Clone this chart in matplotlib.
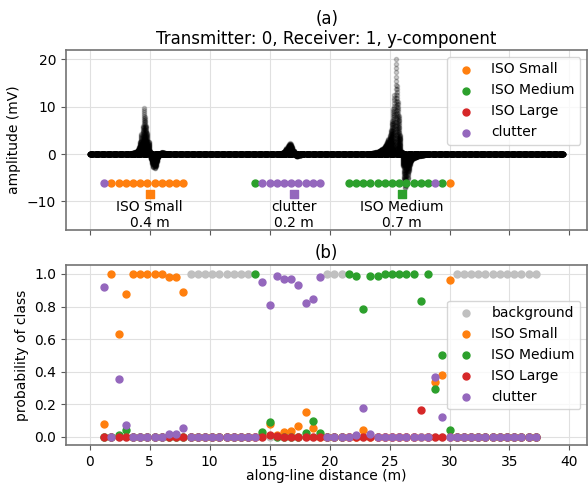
import numpy as np
import matplotlib
matplotlib.use('Agg')
import matplotlib.pyplot as plt

# class names / colours (index 0 = background)
class_names = ['background', 'ISO Small', 'ISO Medium', 'ISO Large', 'clutter']
class_colors = ['silver', 'tab:orange', 'tab:green', 'tab:red', 'tab:purple']

# sounding stations along the line (m)
station_x = np.round(np.arange(1.2, 37.21, 0.6), 1)

# predicted probabilities per class at each station (61 stations)
p_background = [0, 0, 0, 0, 0, 0, 0, 0, 0, 0, 0, 0,
                1, 1, 1, 1, 1, 1, 1, 1, 1,
                0, 0, 0, 0, 0, 0, 0, 0, 0, 0,
                1, 1, 1,
                0, 0, 0, 0, 0, 0, 0, 0, 0, 0, 0, 0, 0, 0, 0,
                1, 1, 1, 1, 1, 1, 1, 1, 1, 1, 1, 1]
p_small = [0.08, 1.0, 0.63, 0.88, 1.0, 1.0, 1.0, 1.0, 1.0, 0.98, 0.98, 0.89,
           0, 0, 0, 0, 0, 0, 0, 0, 0,
           0, 0.01, 0.08, 0.01, 0.03, 0.035, 0.065, 0.155, 0.055, 0,
           0, 0, 0,
           0, 0, 0.04, 0, 0, 0, 0, 0, 0, 0, 0, 0, 0.34, 0.38, 0.965,
           0, 0, 0, 0, 0, 0, 0, 0, 0, 0, 0, 0]
p_medium = [0, 0, 0.014, 0.045, 0, 0, 0, 0, 0, 0, 0, 0,
            0, 0, 0, 0, 0, 0, 0, 0, 0,
            1.0, 0.03, 0.09, 0, 0, 0, 0, 0.025, 0.10, 0.025,
            0, 0, 0,
            1.0, 0.988, 0.785, 0.985, 0.99, 1.0, 1.0, 1.0, 1.0, 1.0, 0.835, 1.0,
            0.295, 0.50, 0.04,
            0, 0, 0, 0, 0, 0, 0, 0, 0, 0, 0, 0]
p_large = [0, 0, 0, 0, 0, 0, 0, 0, 0, 0, 0, 0,
           0, 0, 0, 0, 0, 0, 0, 0, 0,
           0, 0, 0.012, 0.005, 0, 0, 0, 0, 0, 0,
           0, 0, 0,
           0, 0, 0, 0, 0, 0, 0, 0, 0, 0, 0.165, 0, 0, 0, 0,
           0, 0, 0, 0, 0, 0, 0, 0, 0, 0, 0, 0]
p_clutter = [0.92, 0, 0.357, 0.075, 0, 0, 0, 0, 0, 0.02, 0.02, 0.055,
             0, 0, 0, 0, 0, 0, 0, 0, 0,
             0, 0.95, 0.81, 0.985, 0.97, 0.97, 0.935, 0.82, 0.845, 0.98,
             0, 0, 0,
             0, 0.01, 0.18, 0.015, 0, 0, 0, 0, 0, 0, 0, 0, 0.37, 0.12, 0,
             0, 0, 0, 0, 0, 0, 0, 0, 0, 0, 0, 0]

# true targets
target_x = [5.0, 17.0, 26.0]
target_class = [1, 4, 2]
target_label = ['ISO Small\n0.4 m', 'clutter\n0.2 m', 'ISO Medium\n0.7 m']

# measured response: peak amplitude (mV) near each anomaly, zero elsewhere
small_x = np.round(np.arange(3.4, 6.41, 0.1), 1)
small_amp = [0.1, 0.15, 0.2, 0.3, 0.4, 0.6, 0.9, 1.5, 2.6, 4.2, 6.0, 9.8,
             7.8, 6.0, 4.5, 2.6, 0.6, -1.0, -2.0, -2.8, -3.0, -2.6, -1.6,
             -0.7, -0.1, 0.3, 0.35, 0.3, 0.25, 0.15, 0.05]
clutter_x = np.round(np.arange(15.9, 17.81, 0.1), 1)
clutter_amp = [0.1, 0.2, 0.3, 0.5, 0.8, 1.2, 1.7, 2.1, 2.3, 2.1, 1.5, 0.7,
               0.0, -0.3, -0.4, -0.3, -0.2, -0.1, 0.05, 0.0]
medium_x = np.round(np.arange(23.4, 28.01, 0.1), 1)
medium_amp = [0.1, 0.15, 0.2, 0.25, 0.3, 0.4, 0.5, 0.6, 0.75, 0.9, 1.1, 1.4,
              1.7, 2.1, 2.6, 3.2, 4.0, 5.2, 7.0, 9.5, 12.5, 20.0, 14.5, 11.0,
              8.0, 4.0, 0.5, -2.5, -5.5, -7.2, -6.8, -5.2, -3.5, -2.2, -1.5,
              -1.1, -0.9, -0.7, -0.6, -0.5, -0.4, -0.3, -0.25, -0.2, -0.15,
              -0.1, -0.05]
line_x = np.round(np.arange(0.0, 39.51, 0.1), 1)
# relative amplitude of each time channel
channel_scale = [1.0, 0.955, 0.91, 0.865, 0.82, 0.775, 0.73, 0.685, 0.64,
                 0.595, 0.55, 0.505, 0.46, 0.42, 0.38, 0.34, 0.30, 0.265,
                 0.23, 0.2, 0.17, 0.14, 0.115, 0.09, 0.07, 0.05, 0.035,
                 0.02, 0.01, 0.0]

plt.rcParams['font.family'] = 'DejaVu Sans'
plt.rcParams['font.size'] = 10

probs = np.array([p_background, p_small, p_medium, p_large, p_clutter])

sig_x = list(line_x)
sig_y = [0.0] * len(line_x)
for xs, amps in [(small_x, small_amp), (clutter_x, clutter_amp),
                 (medium_x, medium_amp)]:
    for x, a in zip(xs, amps):
        sig_x.append(x)
        sig_y.append(a)
sig_x = np.array(sig_x)
sig_y = np.array(sig_y)
all_x = np.concatenate([sig_x for _ in channel_scale])
all_y = np.concatenate([sig_y * c for c in channel_scale])

fig = plt.figure(figsize=(5.88, 4.83), dpi=100)
ax1 = fig.add_axes([0.112, 0.524, 0.887, 0.3725])
ax2 = fig.add_axes([0.112, 0.0786, 0.887, 0.3727], sharex=ax1)

for ax in (ax1, ax2):
    ax.set_axisbelow(True)
    ax.grid(True, color='0.88', lw=0.8)
    for sp in ax.spines.values():
        sp.set_color('0.45')
        sp.set_linewidth(1.2)
    ax.tick_params(color='0.35', length=3.5)

# (a) data and classification
ax1.scatter(all_x, all_y, s=9, c='k', alpha=0.2, zorder=2)

pred = probs.argmax(axis=0)
for k in range(1, 5):
    sel = pred == k
    ax1.scatter(station_x[sel], np.full(sel.sum(), -6.0), s=25,
                c=class_colors[k], label=class_names[k], zorder=3)

for x, k, lab in zip(target_x, target_class, target_label):
    ax1.scatter([x], [-8.4], marker='s', s=36, c=class_colors[k], zorder=3)
    ax1.text(x, -9.6, lab, ha='center', va='top', fontsize=10)

ax1.set_xlim(-2.0, 41.5)
ax1.set_ylim(-16, 22)
ax1.set_yticks([-10, 0, 10, 20])
ax1.set_ylabel('amplitude (mV)')
ax1.set_title('(a)\nTransmitter: 0, Receiver: 1, y-component', fontsize=12,
              pad=4)
ax1.legend(loc='upper right')
plt.setp(ax1.get_xticklabels(), visible=False)

# (b) probabilities
for k in range(5):
    ax2.scatter(station_x, probs[k], s=25, c=class_colors[k],
                label=class_names[k], zorder=3)
ax2.set_ylim(-0.05, 1.055)
ax2.set_xticks(np.arange(0, 41, 5))
ax2.set_yticks([0.0, 0.2, 0.4, 0.6, 0.8, 1.0])
ax2.set_ylabel('probability of class')
ax2.set_xlabel('along-line distance (m)', labelpad=0)
ax2.set_title('(b)', fontsize=12, pad=5)
ax2.legend(loc='center right')

fig.savefig('out.png', dpi=100)
